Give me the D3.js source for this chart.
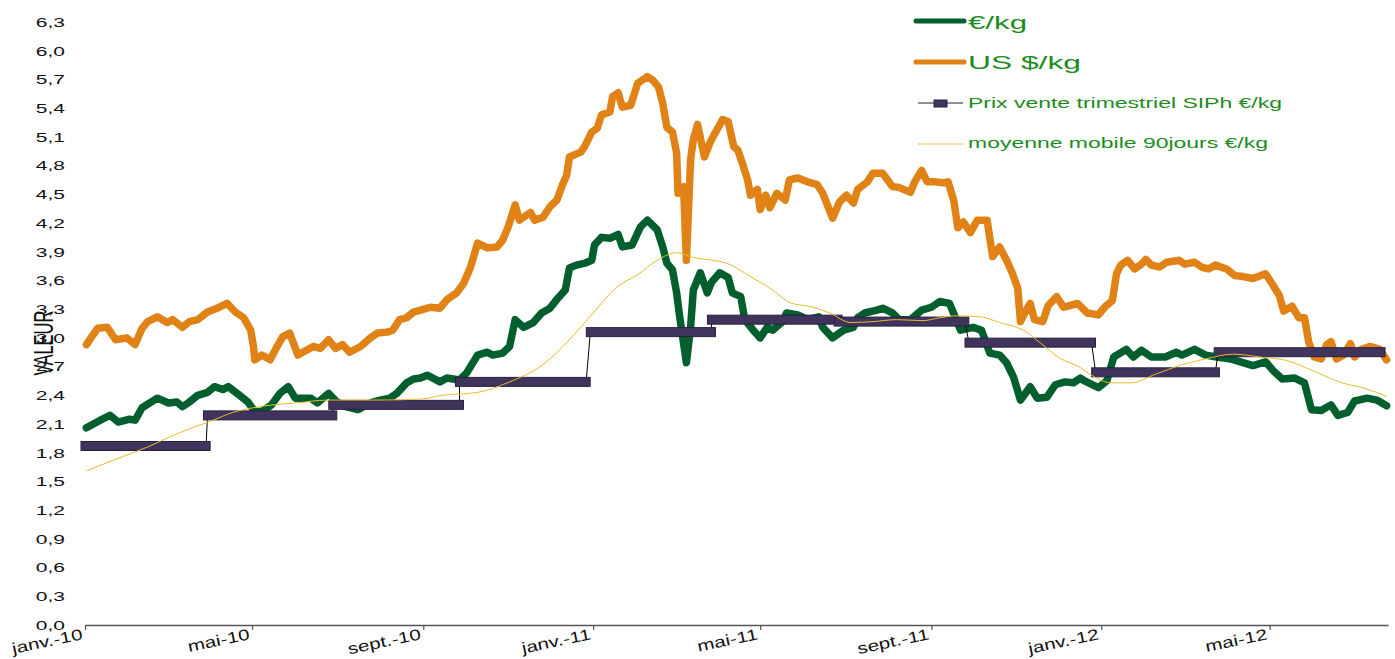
<!DOCTYPE html>
<html>
<head>
<meta charset="utf-8">
<script src="https://cdn.jsdelivr.net/npm/d3@7"></script>
<style>
  body { margin: 0; background: #fff; }
  svg { display: block; font-family: "Liberation Sans", Arial, sans-serif; }
</style>
</head>
<body>
<script>
// cours journalier €/kg
const eurKg = [
["2010-01-02",2.06],["2010-01-12",2.14],["2010-01-19",2.19],["2010-01-25",2.12],["2010-02-02",2.15],["2010-02-06",2.14],["2010-02-11",2.27],["2010-02-22",2.37],["2010-03-02",2.32],["2010-03-08",2.33],["2010-03-12",2.28],["2010-03-17",2.33],["2010-03-23",2.40],["2010-03-30",2.43],["2010-04-04",2.49],["2010-04-10",2.46],["2010-04-14",2.49],["2010-04-22",2.40],["2010-04-28",2.33],["2010-05-03",2.23],["2010-05-08",2.23],["2010-05-15",2.30],["2010-05-21",2.42],["2010-05-27",2.49],["2010-06-01",2.37],["2010-06-06",2.37],["2010-06-12",2.37],["2010-06-17",2.32],["2010-06-25",2.42],["2010-07-01",2.33],["2010-07-08",2.28],["2010-07-16",2.25],["2010-07-25",2.32],["2010-08-01",2.35],["2010-08-08",2.37],["2010-08-13",2.42],["2010-08-20",2.53],["2010-08-25",2.57],["2010-08-30",2.58],["2010-09-04",2.61],["2010-09-13",2.54],["2010-09-18",2.58],["2010-09-27",2.56],["2010-10-02",2.63],["2010-10-10",2.82],["2010-10-17",2.85],["2010-10-21",2.82],["2010-10-28",2.84],["2010-11-02",2.91],["2010-11-06",3.19],["2010-11-12",3.11],["2010-11-19",3.16],["2010-11-25",3.26],["2010-12-01",3.31],["2010-12-07",3.42],["2010-12-12",3.50],["2010-12-15",3.73],["2010-12-20",3.76],["2010-12-26",3.78],["2010-12-31",3.81],
["2011-01-02",3.97],["2011-01-07",4.05],["2011-01-13",4.04],["2011-01-19",4.08],["2011-01-22",3.95],["2011-01-29",3.97],["2011-02-04",4.16],["2011-02-09",4.23],["2011-02-16",4.13],["2011-02-20",3.95],["2011-02-23",3.78],["2011-02-27",3.71],["2011-03-02",3.47],["2011-03-04",3.24],["2011-03-09",2.74],["2011-03-12",3.11],["2011-03-14",3.50],["2011-03-19",3.68],["2011-03-24",3.47],["2011-03-27",3.58],["2011-04-02",3.68],["2011-04-08",3.63],["2011-04-11",3.47],["2011-04-17",3.43],["2011-04-20",3.19],["2011-04-26",3.08],["2011-05-01",3.00],["2011-05-06",3.11],["2011-05-10",3.08],["2011-05-17",3.17],["2011-05-20",3.26],["2011-05-28",3.24],["2011-06-04",3.19],["2011-06-12",3.22],["2011-06-15",3.11],["2011-06-22",3.00],["2011-06-30",3.08],["2011-07-07",3.11],["2011-07-10",3.21],["2011-07-15",3.26],["2011-07-24",3.29],["2011-07-28",3.31],["2011-08-04",3.26],["2011-08-09",3.19],["2011-08-17",3.19],["2011-08-25",3.29],["2011-09-01",3.32],["2011-09-07",3.38],["2011-09-14",3.36],["2011-09-18",3.22],["2011-09-22",3.08],["2011-10-01",3.11],["2011-10-07",3.08],["2011-10-13",2.84],["2011-10-20",2.82],["2011-10-25",2.74],["2011-10-30",2.59],["2011-11-04",2.35],["2011-11-11",2.49],["2011-11-16",2.37],["2011-11-23",2.38],["2011-11-29",2.51],["2011-12-06",2.54],["2011-12-12",2.53],["2011-12-17",2.58],["2011-12-20",2.55],["2011-12-30",2.48],
["2012-01-05",2.55],["2012-01-10",2.80],["2012-01-19",2.88],["2012-01-24",2.80],["2012-01-30",2.87],["2012-02-06",2.80],["2012-02-16",2.80],["2012-02-24",2.85],["2012-02-28",2.82],["2012-03-08",2.88],["2012-03-16",2.82],["2012-03-24",2.80],["2012-04-03",2.78],["2012-04-10",2.75],["2012-04-19",2.71],["2012-04-28",2.75],["2012-05-04",2.65],["2012-05-10",2.57],["2012-05-19",2.58],["2012-05-26",2.53],["2012-05-31",2.25],["2012-06-07",2.24],["2012-06-14",2.30],["2012-06-19",2.19],["2012-06-26",2.22],["2012-07-01",2.34],["2012-07-10",2.37],["2012-07-17",2.35],["2012-07-24",2.29]
];

// cours journalier US $/kg
const usdKg = [
["2010-01-02",2.93],["2010-01-10",3.10],["2010-01-17",3.11],["2010-01-23",2.98],["2010-01-31",3.00],["2010-02-06",2.93],["2010-02-11",3.10],["2010-02-15",3.17],["2010-02-22",3.22],["2010-03-01",3.16],["2010-03-05",3.19],["2010-03-12",3.11],["2010-03-17",3.17],["2010-03-23",3.19],["2010-03-30",3.27],["2010-04-06",3.31],["2010-04-13",3.36],["2010-04-19",3.27],["2010-04-25",3.21],["2010-04-30",3.08],["2010-05-02",2.91],["2010-05-03",2.77],["2010-05-08",2.82],["2010-05-14",2.77],["2010-05-19",2.91],["2010-05-23",3.01],["2010-05-28",3.05],["2010-06-03",2.82],["2010-06-09",2.87],["2010-06-14",2.91],["2010-06-19",2.89],["2010-06-25",2.98],["2010-06-30",2.89],["2010-07-05",2.93],["2010-07-10",2.85],["2010-07-18",2.91],["2010-07-25",3.00],["2010-07-30",3.05],["2010-08-06",3.06],["2010-08-10",3.08],["2010-08-15",3.19],["2010-08-20",3.21],["2010-08-25",3.27],["2010-08-30",3.29],["2010-09-06",3.32],["2010-09-13",3.31],["2010-09-18",3.40],["2010-09-25",3.47],["2010-09-30",3.57],["2010-10-05",3.74],["2010-10-10",3.99],["2010-10-17",3.94],["2010-10-24",3.95],["2010-10-28",4.02],["2010-11-01",4.16],["2010-11-06",4.39],["2010-11-09",4.23],["2010-11-17",4.31],["2010-11-20",4.23],["2010-11-26",4.26],["2010-12-01",4.37],["2010-12-06",4.44],["2010-12-10",4.60],["2010-12-13",4.70],["2010-12-15",4.89],["2010-12-23",4.94],["2010-12-26",5.00],["2010-12-31",5.15],
["2011-01-04",5.19],["2011-01-07",5.33],["2011-01-13",5.36],["2011-01-15",5.52],["2011-01-19",5.56],["2011-01-22",5.41],["2011-01-28",5.43],["2011-01-30",5.52],["2011-02-02",5.66],["2011-02-09",5.73],["2011-02-13",5.69],["2011-02-17",5.62],["2011-02-20",5.45],["2011-02-23",5.20],["2011-02-27",5.15],["2011-03-02",4.93],["2011-03-03",4.51],["2011-03-07",4.58],["2011-03-09",3.81],["2011-03-12",4.86],["2011-03-14",5.07],["2011-03-17",5.23],["2011-03-22",4.89],["2011-03-26",5.04],["2011-03-30",5.15],["2011-04-04",5.28],["2011-04-08",5.26],["2011-04-12",5.00],["2011-04-15",4.96],["2011-04-19",4.79],["2011-04-22",4.65],["2011-04-24",4.49],["2011-04-29",4.55],["2011-05-01",4.34],["2011-05-05",4.49],["2011-05-08",4.36],["2011-05-13",4.51],["2011-05-19",4.44],["2011-05-22",4.65],["2011-05-28",4.67],["2011-06-04",4.63],["2011-06-11",4.60],["2011-06-15",4.51],["2011-06-22",4.25],["2011-06-27",4.42],["2011-07-02",4.49],["2011-07-07",4.41],["2011-07-10",4.55],["2011-07-17",4.63],["2011-07-21",4.72],["2011-07-28",4.72],["2011-08-04",4.58],["2011-08-09",4.57],["2011-08-17",4.52],["2011-08-20",4.63],["2011-08-25",4.75],["2011-08-29",4.63],["2011-09-04",4.63],["2011-09-09",4.62],["2011-09-13",4.63],["2011-09-17",4.44],["2011-09-20",4.15],["2011-09-24",4.21],["2011-09-29",4.10],["2011-10-04",4.23],["2011-10-11",4.23],["2011-10-15",3.85],["2011-10-20",3.95],["2011-10-25",3.81],["2011-10-29",3.68],["2011-11-02",3.52],["2011-11-04",3.17],["2011-11-07",3.26],["2011-11-11",3.36],["2011-11-14",3.19],["2011-11-20",3.17],["2011-11-24",3.34],["2011-11-30",3.43],["2011-12-05",3.32],["2011-12-10",3.34],["2011-12-15",3.36],["2011-12-22",3.26],["2011-12-30",3.24],
["2012-01-04",3.33],["2012-01-09",3.39],["2012-01-12",3.67],["2012-01-15",3.76],["2012-01-20",3.81],["2012-01-25",3.72],["2012-01-30",3.77],["2012-02-02",3.82],["2012-02-06",3.76],["2012-02-12",3.74],["2012-02-17",3.79],["2012-02-26",3.81],["2012-03-01",3.77],["2012-03-08",3.79],["2012-03-13",3.74],["2012-03-18",3.72],["2012-03-23",3.76],["2012-03-31",3.72],["2012-04-06",3.65],["2012-04-12",3.64],["2012-04-19",3.62],["2012-04-28",3.67],["2012-05-03",3.56],["2012-05-08",3.44],["2012-05-11",3.28],["2012-05-17",3.33],["2012-05-22",3.21],["2012-05-26",3.21],["2012-05-29",2.96],["2012-06-02",2.80],["2012-06-07",2.78],["2012-06-11",2.93],["2012-06-14",2.96],["2012-06-18",2.78],["2012-06-23",2.82],["2012-06-28",2.94],["2012-07-01",2.80],["2012-07-06",2.88],["2012-07-12",2.91],["2012-07-19",2.88],["2012-07-24",2.77]
];

// moyenne mobile 90 jours €/kg
const moyenne90 = [
["2010-01-02",1.61],["2010-01-21",1.72],["2010-02-15",1.86],["2010-03-10",2.01],["2010-04-03",2.14],["2010-04-17",2.22],["2010-05-02",2.27],["2010-05-16",2.30],["2010-06-02",2.32],["2010-06-24",2.35],["2010-08-01",2.35],["2010-08-30",2.36],["2010-09-15",2.40],["2010-10-10",2.43],["2010-11-02",2.54],["2010-11-26",2.72],["2010-12-15",2.98],
["2011-01-01",3.26],["2011-01-18",3.53],["2011-02-02",3.66],["2011-02-16",3.81],["2011-03-02",3.89],["2011-03-14",3.84],["2011-04-07",3.78],["2011-04-24",3.64],["2011-05-10",3.50],["2011-05-22",3.37],["2011-06-08",3.32],["2011-06-20",3.26],["2011-07-05",3.16],["2011-07-21",3.17],["2011-08-07",3.19],["2011-08-26",3.18],["2011-09-07",3.21],["2011-09-19",3.23],["2011-10-06",3.22],["2011-10-20",3.16],["2011-11-06",3.08],["2011-11-18",2.95],["2011-12-02",2.79],["2011-12-17",2.69],["2011-12-24",2.62],
["2012-01-08",2.53],["2012-01-22",2.53],["2012-02-09",2.62],["2012-02-26",2.71],["2012-03-16",2.78],["2012-04-05",2.83],["2012-04-24",2.80],["2012-05-14",2.76],["2012-06-02",2.65],["2012-06-22",2.53],["2012-07-09",2.47],["2012-07-24",2.39]
];

// prix de vente trimestriel SIPh €/kg
const trimDebut = ["2010-01-01","2010-03-30","2010-06-28","2010-09-27","2010-12-30","2011-03-27","2011-06-26","2011-09-28","2011-12-28","2012-03-25"];
const trimFin   = ["2010-03-29","2010-06-28","2010-09-27","2010-12-27","2011-03-27","2011-06-26","2011-09-25","2011-12-25","2012-03-23","2012-07-20"];
const trimPrix  = [1.87, 2.19, 2.30, 2.54, 3.06, 3.19, 3.17, 2.95, 2.64, 2.85];

const xTickDates  = ["2010-01-01","2010-05-01","2010-09-01","2011-01-01","2011-05-01","2011-09-01","2012-01-01","2012-05-01"];
const xTickLabels = ["janv.-10","mai-10","sept.-10","janv.-11","mai-11","sept.-11","janv.-12","mai-12"];
const yTicks = [0,0.3,0.6,0.9,1.2,1.5,1.8,2.1,2.4,2.7,3.0,3.3,3.6,3.9,4.2,4.5,4.8,5.1,5.4,5.7,6.0,6.3];

const width = 1395;
const height = 659;
const parse = d3.timeParse("%Y-%m-%d");

const svg = d3.select("body")
  .append("svg")
  .attr("width", width)
  .attr("height", height);

const x = d3.scaleTime()
  .domain([parse("2010-01-01"), parse("2012-07-25")])
  .range([85, 1388]);

const y = d3.scaleLinear()
  .domain([0, 6.3])
  .range([625, 22]);

// axe Y (sans ligne, comme l'original)
const yAxis = svg.append("g")
  .attr("transform", "translate(85,0)")
  .call(d3.axisLeft(y).tickValues(yTicks).tickSize(0)
    .tickFormat(d => d3.format(".1f")(d).replace(".", ",")));
yAxis.select(".domain").remove();
yAxis.selectAll("text")
  .attr("x", 0)
  .attr("dy", "0.36em")
  .attr("transform", "translate(-20,0) scale(1.75,1)")
  .attr("font-size", 12)
  .attr("font-family", "Liberation Sans, Arial, sans-serif")
  .attr("fill", "#111");

// axe X
const xAxis = svg.append("g")
  .attr("transform", "translate(0,625)")
  .call(d3.axisBottom(x)
    .tickValues(xTickDates.map(parse))
    .tickFormat((d, i) => xTickLabels[i])
    .tickSize(5)
    .tickSizeOuter(0));
xAxis.select(".domain").attr("stroke", "#555").attr("stroke-width", 1.5);
xAxis.selectAll(".tick line").attr("stroke", "#555").attr("stroke-width", 1.2);
xAxis.selectAll("text")
  .attr("y", 0)
  .attr("dy", 0)
  .attr("text-anchor", "end")
  .attr("transform", "translate(-2,14) rotate(-12) scale(1.33,1)")
  .attr("font-size", 15.5)
  .attr("font-family", "Liberation Sans, Arial, sans-serif")
  .attr("fill", "#111");

svg.append("text")
  .attr("transform", "translate(53,343) scale(1.7,1) rotate(-90)")
  .attr("text-anchor", "middle")
  .attr("font-size", 16.5)
  .attr("fill", "#111")
  .text("VALEUR");

const line = d3.line()
  .x(d => x(parse(d[0])))
  .y(d => y(d[1]));

svg.append("path")
  .datum(eurKg)
  .attr("d", line)
  .attr("fill", "none")
  .attr("stroke", "#005f2c")
  .attr("stroke-width", 7.5)
  .attr("stroke-linejoin", "round")
  .attr("stroke-linecap", "round");

svg.append("path")
  .datum(usdKg)
  .attr("d", line)
  .attr("fill", "none")
  .attr("stroke", "#e08216")
  .attr("stroke-width", 7.5)
  .attr("stroke-linejoin", "round")
  .attr("stroke-linecap", "round");

// paliers trimestriels : fine ligne noire + bande de marqueurs
const trimPoints = [];
trimPrix.forEach((v, i) => {
  trimPoints.push([trimDebut[i], v]);
  trimPoints.push([trimFin[i], v]);
});
svg.append("path")
  .datum(trimPoints)
  .attr("d", line)
  .attr("fill", "none")
  .attr("stroke", "#000")
  .attr("stroke-width", 1);

svg.selectAll(".trim")
  .data(trimPrix)
  .enter()
  .append("rect")
  .attr("class", "trim")
  .attr("x", (d, i) => x(parse(trimDebut[i])) - 4)
  .attr("y", d => y(d) - 4.5)
  .attr("width", (d, i) => x(parse(trimFin[i])) - x(parse(trimDebut[i])) + 8)
  .attr("height", 9)
  .attr("fill", "#40345c")
  .attr("stroke", "#2a2042")
  .attr("stroke-width", 1);

svg.append("path")
  .datum(moyenne90)
  .attr("d", line.curve(d3.curveMonotoneX))
  .attr("fill", "none")
  .attr("stroke", "#e6bd2c")
  .attr("stroke-width", 1);

// légende
const legend = svg.append("g");
const legGreen = "#1c8c1c";

legend.append("line").attr("x1", 916).attr("x2", 964).attr("y1", 21).attr("y2", 21)
  .attr("stroke", "#005f2c").attr("stroke-width", 5).attr("stroke-linecap", "round");
legend.append("text").attr("x", 968).attr("y", 29).attr("font-size", 19)
  .attr("textLength", 59).attr("lengthAdjust", "spacingAndGlyphs")
  .attr("fill", legGreen).text("€/kg");

legend.append("line").attr("x1", 916).attr("x2", 964).attr("y1", 62).attr("y2", 62)
  .attr("stroke", "#e08216").attr("stroke-width", 5).attr("stroke-linecap", "round");
legend.append("text").attr("x", 968).attr("y", 69).attr("font-size", 19)
  .attr("textLength", 113).attr("lengthAdjust", "spacingAndGlyphs")
  .attr("fill", legGreen).text("US $/kg");

legend.append("line").attr("x1", 918).attr("x2", 963).attr("y1", 103).attr("y2", 103)
  .attr("stroke", "#222").attr("stroke-width", 1);
legend.append("rect").attr("x", 934).attr("y", 100).attr("width", 13).attr("height", 7)
  .attr("fill", "#40345c").attr("stroke", "#2a2042");
legend.append("text").attr("x", 968).attr("y", 108).attr("font-size", 14)
  .attr("textLength", 314).attr("lengthAdjust", "spacingAndGlyphs")
  .attr("fill", legGreen).text("Prix vente trimestriel SIPh €/kg");

legend.append("line").attr("x1", 918).attr("x2", 963).attr("y1", 144).attr("y2", 144)
  .attr("stroke", "#f3e2a6").attr("stroke-width", 2);
legend.append("text").attr("x", 968).attr("y", 148).attr("font-size", 14)
  .attr("textLength", 300).attr("lengthAdjust", "spacingAndGlyphs")
  .attr("fill", legGreen).text("moyenne mobile 90jours €/kg");
</script>
</body>
</html>
